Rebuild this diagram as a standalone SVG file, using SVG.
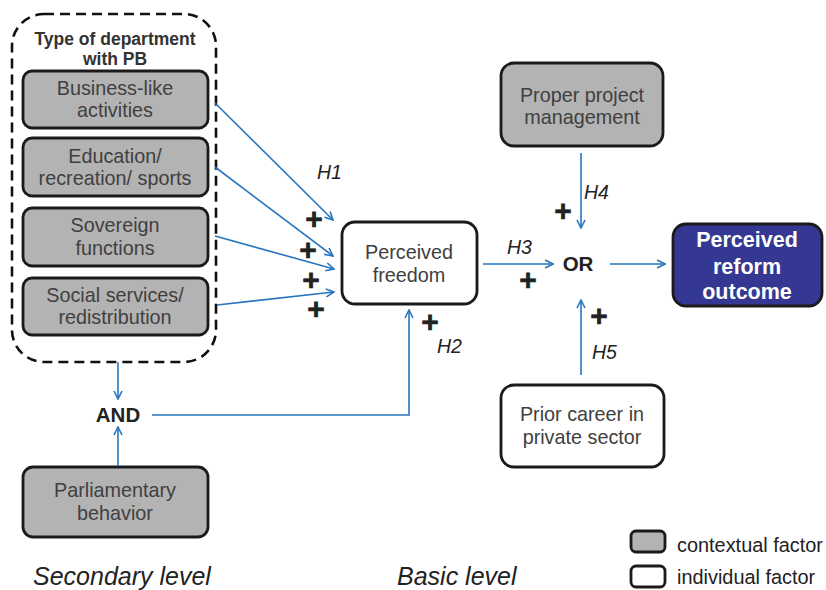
<svg xmlns="http://www.w3.org/2000/svg" width="826" height="590" viewBox="0 0 826 590">
  <defs>
    <marker id="arrow" viewBox="0 0 10 10" refX="9" refY="5" markerWidth="10" markerHeight="10" markerUnits="userSpaceOnUse" orient="auto">
      <path d="M1,1 L9,5 L1,9" fill="none" stroke="#2776be" stroke-width="1.6"/>
    </marker>
    <style>
      .ctx { fill: #b3b3b3; stroke: #1a1a1a; stroke-width: 2.8; }
      .ind { fill: #ffffff; stroke: #1a1a1a; stroke-width: 2.8; }
      .out { fill: #353892; stroke: #1a1a1a; stroke-width: 2.8; }
      .lbl { font-family: "Liberation Sans", Arial, sans-serif; font-size: 19.8px; fill: #404040; text-anchor: middle; }
      .ttl { font-family: "Liberation Sans", Arial, sans-serif; font-size: 17.5px; font-weight: bold; fill: #333333; text-anchor: middle; }
      .olbl { font-family: "Liberation Sans", Arial, sans-serif; font-size: 21.5px; font-weight: bold; fill: #ffffff; text-anchor: middle; }
      .gate { font-family: "Liberation Sans", Arial, sans-serif; font-size: 20.5px; font-weight: bold; fill: #222222; text-anchor: middle; }
      .hyp { font-family: "Liberation Sans", Arial, sans-serif; font-size: 19.5px; font-style: italic; fill: #222222; }
      .plus { font-family: "Liberation Sans", Arial, sans-serif; font-size: 30px; font-weight: bold; fill: #222222; text-anchor: middle; stroke: #222222; stroke-width: 0.6; }
      .lvl { font-family: "Liberation Sans", Arial, sans-serif; font-size: 25px; font-style: italic; fill: #222222; }
      .leg { font-family: "Liberation Sans", Arial, sans-serif; font-size: 19.9px; fill: #222222; }
      .conn { fill: none; stroke: #2776be; stroke-width: 1.6; }
    </style>
  </defs>

  <!-- group of department types -->
  <g id="department-types">
    <rect x="12" y="14" width="204" height="348" rx="32" ry="32" fill="none" stroke="#111111" stroke-width="2.6" stroke-dasharray="10,6"/>
    <text x="115" y="45" class="ttl">Type of department</text>
    <text x="115" y="65" class="ttl">with PB</text>
  </g>

  <g id="business-like">
    <rect x="23" y="71" width="185" height="57" rx="9" class="ctx"/>
    <text x="115" y="95" class="lbl">Business-like</text>
    <text x="115" y="117" class="lbl">activities</text>
  </g>

  <g id="education">
    <rect x="23" y="138" width="185" height="58" rx="9" class="ctx"/>
    <text x="115" y="163" class="lbl">Education/</text>
    <text x="115" y="185" class="lbl">recreation/ sports</text>
  </g>

  <g id="sovereign">
    <rect x="23" y="208" width="185" height="58" rx="9" class="ctx"/>
    <text x="115" y="232" class="lbl">Sovereign</text>
    <text x="115" y="255" class="lbl">functions</text>
  </g>

  <g id="social-services">
    <rect x="23" y="278" width="185" height="57" rx="9" class="ctx"/>
    <text x="115" y="302" class="lbl">Social services/</text>
    <text x="115" y="324" class="lbl">redistribution</text>
  </g>

  <g id="parliamentary">
    <rect x="23" y="467" width="185" height="70" rx="10" class="ctx"/>
    <text x="115" y="497" class="lbl">Parliamentary</text>
    <text x="115" y="520" class="lbl">behavior</text>
  </g>

  <g id="and-gate">
    <text x="118" y="422" class="gate">AND</text>
  </g>

  <g id="perceived-freedom">
    <rect x="342" y="222" width="135" height="82" rx="13" class="ind"/>
    <text x="409" y="259" class="lbl">Perceived</text>
    <text x="409" y="282" class="lbl">freedom</text>
  </g>

  <g id="project-management">
    <rect x="501" y="63" width="162" height="83" rx="13" class="ctx"/>
    <text x="582" y="102" class="lbl">Proper project</text>
    <text x="582" y="124" class="lbl">management</text>
  </g>

  <g id="or-gate">
    <text x="578" y="271" class="gate">OR</text>
  </g>

  <g id="prior-career">
    <rect x="501" y="385" width="163" height="82" rx="13" class="ind"/>
    <text x="582" y="421" class="lbl">Prior career in</text>
    <text x="582" y="444" class="lbl">private sector</text>
  </g>

  <g id="reform-outcome">
    <rect x="673" y="224" width="149" height="82" rx="13" class="out"/>
    <text x="747" y="247" class="olbl">Perceived</text>
    <text x="747" y="274" class="olbl">reform</text>
    <text x="747" y="299" class="olbl">outcome</text>
  </g>

  <!-- connectors -->
  <g id="connectors">
    <line x1="215" y1="103" x2="333" y2="220" class="conn" marker-end="url(#arrow)"/>
    <line x1="215" y1="167" x2="333" y2="256" class="conn" marker-end="url(#arrow)"/>
    <line x1="215" y1="236" x2="334" y2="269" class="conn" marker-end="url(#arrow)"/>
    <line x1="217" y1="305" x2="334" y2="292" class="conn" marker-end="url(#arrow)"/>
    <line x1="118" y1="362" x2="118" y2="399" class="conn" marker-end="url(#arrow)"/>
    <line x1="118" y1="466" x2="118" y2="427" class="conn" marker-end="url(#arrow)"/>
    <polyline points="152,415 409,415 409,310" class="conn" marker-end="url(#arrow)"/>
    <line x1="483" y1="264" x2="553" y2="264" class="conn" marker-end="url(#arrow)"/>
    <line x1="581" y1="153" x2="581" y2="228" class="conn" marker-end="url(#arrow)"/>
    <line x1="581" y1="375" x2="581" y2="300" class="conn" marker-end="url(#arrow)"/>
    <line x1="610" y1="264" x2="665" y2="264" class="conn" marker-end="url(#arrow)"/>
  </g>

  <!-- hypothesis labels and signs -->
  <g id="hypotheses">
    <text x="317" y="179" class="hyp">H1</text>
    <text x="437" y="353" class="hyp">H2</text>
    <text x="507" y="254" class="hyp">H3</text>
    <text x="584" y="199" class="hyp">H4</text>
    <text x="592" y="359" class="hyp">H5</text>
    <text x="314" y="229" class="plus">+</text>
    <text x="308" y="260" class="plus">+</text>
    <text x="311" y="290" class="plus">+</text>
    <text x="316" y="319" class="plus">+</text>
    <text x="430" y="332" class="plus">+</text>
    <text x="528" y="290" class="plus">+</text>
    <text x="563" y="221" class="plus">+</text>
    <text x="599" y="326" class="plus">+</text>
  </g>

  <!-- level captions -->
  <text x="33" y="585" class="lvl">Secondary level</text>
  <text x="397" y="585" class="lvl">Basic level</text>

  <!-- legend -->
  <g id="legend">
    <rect x="631" y="531" width="34" height="21" rx="5" class="ctx"/>
    <text x="677" y="552" class="leg">contextual factor</text>
    <rect x="631" y="566" width="34" height="21" rx="5" class="ind"/>
    <text x="677" y="584" class="leg">individual factor</text>
  </g>
</svg>
